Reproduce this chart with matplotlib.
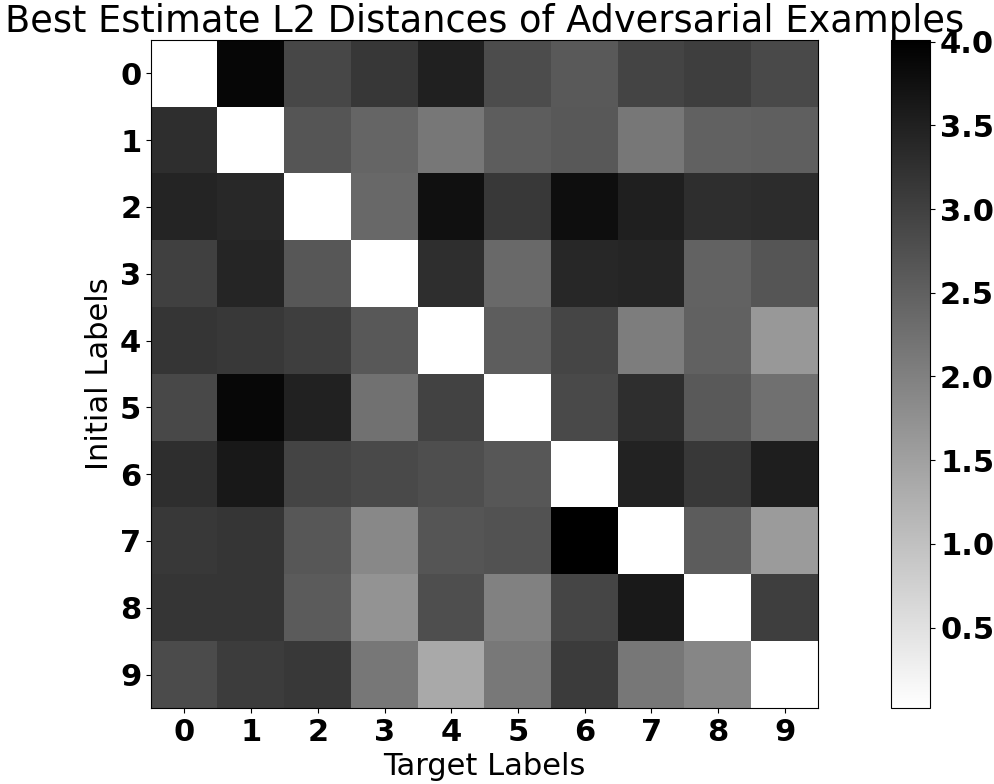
import numpy as np
import matplotlib
matplotlib.use('Agg')
import matplotlib.pyplot as plt

labels = ['0', '1', '2', '3', '4', '5', '6', '7', '8', '9']

# best estimate L2 distances, row = initial label, col = target label
row0 = [0.02, 3.91, 2.90, 3.15, 3.50, 2.81, 2.60, 2.95, 3.03, 2.85]
row1 = [3.28, 0.02, 2.68, 2.43, 2.14, 2.55, 2.63, 2.14, 2.47, 2.52]
row2 = [3.44, 3.37, 0.02, 2.38, 3.75, 3.11, 3.78, 3.52, 3.29, 3.31]
row3 = [3.01, 3.42, 2.65, 0.02, 3.28, 2.35, 3.40, 3.42, 2.46, 2.68]
row4 = [3.18, 3.11, 3.04, 2.63, 0.02, 2.55, 2.93, 2.05, 2.47, 1.64]
row5 = [2.88, 3.89, 3.48, 2.24, 2.96, 0.02, 2.85, 3.29, 2.62, 2.25]
row6 = [3.28, 3.63, 2.95, 2.85, 2.79, 2.65, 0.02, 3.45, 3.11, 3.53]
row7 = [3.11, 3.17, 2.65, 1.89, 2.68, 2.71, 4.01, 0.02, 2.57, 1.59]
row8 = [3.18, 3.18, 2.59, 1.70, 2.79, 1.99, 2.92, 3.59, 0.02, 3.04]
row9 = [2.84, 3.06, 3.11, 2.14, 1.37, 2.13, 3.09, 2.14, 1.92, 0.02]

dist = np.array([row0, row1, row2, row3, row4, row5, row6, row7, row8, row9])

plt.rcParams['font.family'] = 'DejaVu Sans'

fig = plt.figure(figsize=(9.94, 7.84), dpi=100)
ax = fig.add_axes([0.152, 0.097, 0.671, 0.852])
cax = fig.add_axes([0.896, 0.097, 0.040, 0.852])

im = ax.imshow(dist, cmap='gray_r', aspect='auto')
ax.set_xticks(range(10))
ax.set_yticks(range(10))
ax.set_xticklabels(labels, fontsize=22, fontweight='bold')
ax.set_yticklabels(labels, fontsize=22, fontweight='bold')
ax.set_xlabel('Target Labels', fontsize=22)
ax.set_ylabel('Initial Labels', fontsize=22)
ax.set_title('Best Estimate L2 Distances of Adversarial Examples', fontsize=26.5)

cb = fig.colorbar(im, cax=cax)
for t in cb.ax.get_yticklabels():
    t.set_fontsize(22)
    t.set_fontweight('bold')

plt.savefig('out.png', dpi=100)
